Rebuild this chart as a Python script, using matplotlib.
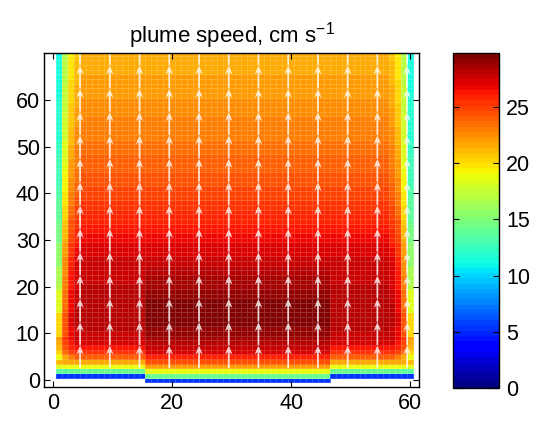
import numpy as np
import matplotlib.pyplot as plt
from matplotlib.colors import Normalize

plt.rcParams['font.family'] = ['Liberation Sans', 'DejaVu Sans']
plt.rcParams['mathtext.fontset'] = 'custom'
plt.rcParams['mathtext.rm'] = 'Liberation Sans'
plt.rcParams['mathtext.it'] = 'Liberation Sans'

# plume speed (cm/s) read along the centre, rows y = 0..70
speed_mid = [5.5, 14, 19, 22, 24.5, 26, 27, 27.8, 28.3, 28.7,
             29.0, 29.2, 29.4, 29.5, 29.6, 29.6, 29.5, 29.4, 29.2, 29.0,
             28.8, 28.6, 28.4, 28.2, 28.0, 27.8, 27.6, 27.4, 27.2, 27.0,
             26.8, 26.6, 26.4, 26.2, 26.0, 25.8, 25.6, 25.4, 25.2, 25.0,
             24.9, 24.7, 24.5, 24.4, 24.2, 24.1, 23.9, 23.8, 23.7, 23.6,
             23.5, 23.3, 23.2, 23.1, 23.0, 22.9, 22.8, 22.7, 22.6, 22.5,
             22.4, 22.3, 22.2, 22.1, 22.0, 21.9, 21.8, 21.7, 21.6, 21.5,
             21.4]
# same for the two side parts (they start one row higher)
speed_side = [np.nan, 5.5, 14, 19, 21.8, 23.7, 25.3, 26.3, 27.0, 27.5,
              27.8, 28.0, 28.2, 28.3, 28.3, 28.3, 28.2, 28.1, 28.0, 27.95,
              27.9, 27.85, 27.8, 27.75, 27.7, 27.7, 27.6, 27.4, 27.2, 27.0,
              26.8, 26.6, 26.4, 26.2, 26.0, 25.8, 25.6, 25.4, 25.2, 25.0,
              24.9, 24.7, 24.5, 24.4, 24.2, 24.1, 23.9, 23.8, 23.7, 23.6,
              23.5, 23.3, 23.2, 23.1, 23.0, 22.9, 22.8, 22.7, 22.6, 22.5,
              22.4, 22.3, 22.2, 22.1, 22.0, 21.9, 21.8, 21.7, 21.6, 21.5,
              21.4]
# slow-down factor of the outer 4 columns, per 5-unit height band
edge_col1 = [0.97, 0.80, 0.72, 0.65, 0.60, 0.57, 0.55, 0.54, 0.53, 0.53, 0.52, 0.52, 0.52, 0.52, 0.52]
edge_col2 = [0.99, 0.92, 0.87, 0.84, 0.82, 0.81, 0.80, 0.79, 0.79, 0.78, 0.78, 0.78, 0.78, 0.78, 0.78]
edge_col3 = [1.00, 0.98, 0.96, 0.95, 0.94, 0.93, 0.93, 0.92, 0.92, 0.92, 0.91, 0.91, 0.91, 0.91, 0.91]
edge_col4 = [1.00, 1.00, 0.99, 0.99, 0.98, 0.98, 0.97, 0.97, 0.97, 0.97, 0.97, 0.97, 0.97, 0.97, 0.97]
mid_start, mid_end = 16, 46   # columns of the lower middle part
n_cols = 60
arrow_len = 4.9

x_edges = np.arange(0.5, n_cols + 1.5, 1)
y_edges = np.arange(-0.5, len(speed_mid) + 0.5, 1)
edge_tab = np.array([edge_col1, edge_col2, edge_col3, edge_col4])

W = np.full((len(speed_mid), n_cols), np.nan)
for c in range(n_cols):
    xc = c + 1
    prof = np.array(speed_mid if mid_start <= xc <= mid_end else speed_side)
    d = min(xc - 1, n_cols - xc)
    for j in range(len(prof)):
        f = edge_tab[d, j // 5] if d < 4 else 1.0
        W[j, c] = prof[j] * f

fig = plt.figure(figsize=(5.36, 4.25), dpi=100)
ax = fig.add_axes([44 / 536, 1 - 387.3 / 425, 375 / 536, 334 / 425])
cax = fig.add_axes([452.7 / 536, 1 - 388.3 / 425, 46.6 / 536, 335 / 425])

cmap = plt.get_cmap('jet', 64)
norm = Normalize(0, 29.74)
mesh = ax.pcolormesh(x_edges, y_edges, np.ma.masked_invalid(W), cmap=cmap, norm=norm,
                     edgecolors=(1, 1, 1, 0.18), linewidth=0.4)

# arrows
qx, qy = np.meshgrid(np.arange(4.5, 60, 5), np.arange(2.5, 70, 5))
ax.quiver(qx, qy, np.zeros_like(qx), np.full(qx.shape, arrow_len),
          angles='xy', scale_units='xy', scale=1, units='dots', width=1.8,
          headwidth=4.2, headlength=5.0, headaxislength=3.8,
          color=(1, 1, 1, 0.8))

ax.set_xlim(-1.56, 61.5)
ax.set_ylim(-1.56, 70)
ax.set_xticks([0, 20, 40, 60])
ax.set_yticks(np.arange(0, 61, 10))
ax.tick_params(direction='in', top=True, right=True, length=4, labelsize=15.5)
ax.tick_params(axis='y', pad=3)
ax.tick_params(axis='x', pad=4)
for s in ax.spines.values():
    s.set_linewidth(1.0)
ax.set_title('plume speed, cm s$^{-1}$', fontsize=16, pad=8)

cb = fig.colorbar(mesh, cax=cax, ticks=[0, 5, 10, 15, 20, 25])
cax.tick_params(direction='in', left=True, right=True, length=4, labelsize=15.5, pad=5)
cb.outline.set_linewidth(1.0)

fig.savefig('out.png', dpi=100)
